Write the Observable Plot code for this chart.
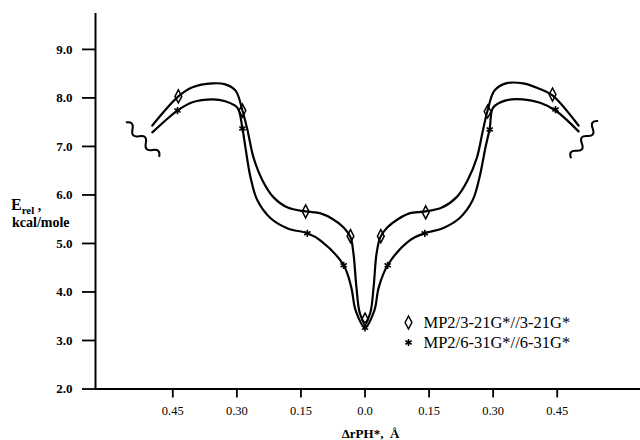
<!DOCTYPE html>
<html><head><meta charset="utf-8">
<script src="https://cdn.jsdelivr.net/npm/d3@7"></script>
<script src="https://cdn.jsdelivr.net/npm/@observablehq/plot@0.6"></script>
<style>body{margin:0;background:#fff} #chart{width:640px;height:440px}</style>
</head><body><div id="chart"></div>
<script>
// Smooth curves (ΔrPH*, signed; E_rel kcal/mole)
const upperX = [-0.498,-0.437,-0.404,-0.357,-0.327,-0.303,-0.287,-0.275,-0.261,-0.240,-0.214,-0.181,-0.139,-0.104,-0.075,-0.050,-0.034,-0.027,-0.020,-0.012,0,
                0.012,0.020,0.027,0.036,0.052,0.077,0.104,0.142,0.180,0.214,0.240,0.262,0.276,0.287,0.303,0.330,0.370,0.405,0.439,0.500];
const upperE = [7.43,8.03,8.22,8.30,8.28,8.15,7.74,7.33,6.77,6.30,5.95,5.74,5.66,5.62,5.50,5.33,5.13,4.79,4.09,3.56,3.37,
                3.56,4.09,4.79,5.13,5.33,5.50,5.62,5.66,5.74,5.95,6.30,6.77,7.33,7.74,8.15,8.30,8.30,8.20,8.05,7.43];
const lowerX = [-0.498,-0.439,-0.404,-0.357,-0.327,-0.299,-0.287,-0.280,-0.268,-0.252,-0.221,-0.181,-0.135,-0.104,-0.050,-0.032,-0.022,0,
                0.022,0.032,0.053,0.104,0.140,0.181,0.221,0.252,0.268,0.282,0.292,0.300,0.330,0.370,0.410,0.446,0.500];
const lowerE = [7.29,7.74,7.91,7.97,7.93,7.80,7.37,6.98,6.36,5.89,5.52,5.31,5.21,5.06,4.55,4.09,3.62,3.27,
                3.62,4.09,4.55,5.06,5.21,5.31,5.52,5.89,6.36,6.98,7.37,7.80,7.95,7.97,7.90,7.74,7.31];
// Computed points
const diamondX = [-0.437,-0.287,-0.139,-0.034,0,0.037,0.142,0.287,0.439];
const diamondE = [8.03,7.74,5.66,5.15,3.43,5.15,5.64,7.72,8.07];
const starX = [-0.439,-0.287,-0.135,-0.050,0,0.053,0.140,0.292,0.446];
const starE = [7.74,7.37,5.21,4.55,3.26,4.55,5.21,7.35,7.76];
// Axes
const xTicks = [-0.45,-0.30,-0.15,0,0.15,0.30,0.45];
const xTickLabels = ["0.45","0.30","0.15","0.0","0.15","0.30","0.45"];
const yTicks = [2,3,4,5,6,7,8,9];
const yTickLabels = ["2.0","3.0","4.0","5.0","6.0","7.0","8.0","9.0"];
const xDomain = [-0.631, 0.645];
const yDomain = [2, 9.74];
const legendLabels = ["MP2/3-21G*//3-21G*", "MP2/6-31G*//6-31G*"];
const breakX = [-0.521, 0.514];
const breakE = [7.14, 7.14];

const pts = (xs, ys) => xs.map((x, i) => ({x, y: ys[i]}));
const tallDiamond = {draw(ctx){ ctx.moveTo(0,-6.5); ctx.lineTo(3.4,0); ctx.lineTo(0,6.5); ctx.lineTo(-3.4,0); ctx.closePath(); }};
// wavy "break" symbol drawn along a direction
const wave = (deg, L, A, halves) => ({draw(ctx){
  const a = deg * Math.PI / 180, c = Math.cos(a), s = Math.sin(a);
  const P = (u, v) => [u * c - v * s, u * s + v * c];
  ctx.moveTo(...P(-L / 2, 0));
  for (let k = 0; k < halves; k++) {
    const u0 = -L / 2 + k * L / halves, u1 = u0 + L / halves;
    ctx.quadraticCurveTo(...P((u0 + u1) / 2, (k % 2 ? 2 : -2) * A), ...P(u1, 0));
  }
}});
const serif = "'Liberation Serif', 'Times New Roman', serif";

const plot = Plot.plot({
  width: 640, height: 440,
  marginLeft: 95, marginRight: 0, marginTop: 13, marginBottom: 51.5,
  x: {domain: xDomain},
  y: {domain: yDomain},
  style: {fontFamily: serif, color: "#000", background: "#fff", overflow: "visible"},
  marks: [
    Plot.axisX(xTicks, {tickSize: 9, tickPadding: 8, strokeWidth: 1.8, fontSize: 12.5, fontFamily: serif, label: null,
      tickFormat: d => xTickLabels[xTicks.indexOf(d)]}),
    Plot.axisY(yTicks, {tickSize: 13, tickPadding: 10, strokeWidth: 1.8, fontSize: 13, fontWeight: "bold", fontFamily: serif, label: null,
      tickFormat: d => yTickLabels[yTicks.indexOf(d)]}),
    Plot.ruleY([yDomain[0]], {strokeWidth: 2}),
    Plot.ruleX([xDomain[0]], {strokeWidth: 2}),
    Plot.line(pts(upperX, upperE), {x: "x", y: "y", curve: "catmull-rom", stroke: "#000", strokeWidth: 2.2}),
    Plot.line(pts(lowerX, lowerE), {x: "x", y: "y", curve: "catmull-rom", stroke: "#000", strokeWidth: 2.2}),
    Plot.dot(pts(diamondX, diamondE), {x: "x", y: "y", symbol: tallDiamond, stroke: "#000", strokeWidth: 1.5, fill: "none"}),
    Plot.dot(pts(starX, starE), {x: "x", y: "y", symbol: "asterisk", r: 3.4, stroke: "#000", strokeWidth: 1.6}),
    Plot.dot(pts(breakX.slice(0, 1), breakE.slice(0, 1)), {x: "x", y: "y", symbol: wave(46, 48, 3.6, 5), stroke: "#000", strokeWidth: 2, fill: "none"}),
    Plot.dot(pts(breakX.slice(1), breakE.slice(1)), {x: "x", y: "y", symbol: wave(-54, 46, 3.6, 5), stroke: "#000", strokeWidth: 2, fill: "none"}),
    // legend
    Plot.dot([0], {frameAnchor: "top-left", dx: 313, dy: 309, symbol: tallDiamond, stroke: "#000", strokeWidth: 1.5, fill: "none"}),
    Plot.dot([0], {frameAnchor: "top-left", dx: 313, dy: 329, symbol: "asterisk", r: 3.4, stroke: "#000", strokeWidth: 1.6}),
    Plot.text([legendLabels[0]], {frameAnchor: "top-left", dx: 328, dy: 309, textAnchor: "start", lineAnchor: "middle", fontSize: 16.5, fontFamily: serif, fill: "#000"}),
    Plot.text([legendLabels[1]], {frameAnchor: "top-left", dx: 328, dy: 329, textAnchor: "start", lineAnchor: "middle", fontSize: 16.5, fontFamily: serif, fill: "#000"}),
    // x label
    Plot.text(["ΔrPH*,  Å"], {frameAnchor: "bottom", dx: 2.5, dy: 45, lineAnchor: "middle", fontSize: 13, fontWeight: "bold", fontFamily: serif, fill: "#000"})
  ]
});
document.getElementById("chart").appendChild(plot);

const svg = d3.select(plot);
svg.selectAll("text").style("font-family", serif);
// y label with subscript
const t1 = svg.append("text").attr("x", 11).attr("y", 210).attr("text-anchor", "start")
  .style("font-family", serif).attr("font-weight", "bold").attr("fill", "#000");
t1.append("tspan").attr("font-size", 16).text("E");
t1.append("tspan").attr("font-size", 11).attr("dy", 4).text("rel");
t1.append("tspan").attr("font-size", 14).attr("dy", -4).text(" ,");
svg.append("text").attr("x", 12).attr("y", 227).attr("text-anchor", "start").style("font-family", serif).attr("font-weight", "bold")
  .attr("font-size", 14).attr("fill", "#000").text("kcal/mole");
</script>
</body></html>
